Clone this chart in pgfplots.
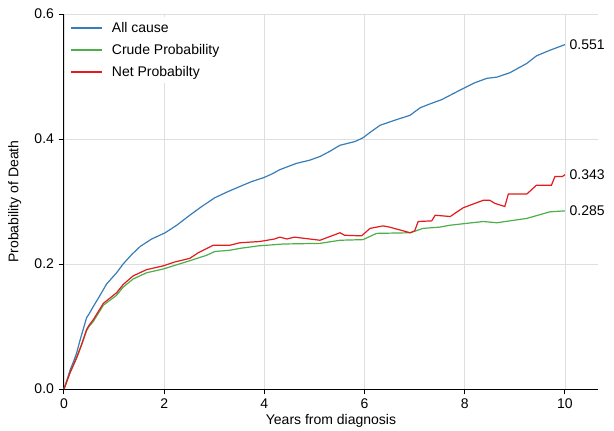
\documentclass[border=0pt]{standalone}
\usepackage{pgfplots}
\pgfplotsset{compat=1.18}
\usepackage{fontspec}
\setmainfont{Liberation Sans}
\definecolor{cAll}{RGB}{55,126,184}
\definecolor{cCrude}{RGB}{77,175,74}
\definecolor{cNet}{RGB}{228,26,28}
\newcommand\legline[1]{\textcolor{#1}{\rule[3.0pt]{23pt}{1.1pt}}}
\begin{document}
\begin{tikzpicture}
\begin{axis}[
  scale only axis,
  width=400.5pt, height=281.25pt,
  xmin=0, xmax=10.66, ymin=0, ymax=0.6,
  axis x line*=bottom, axis y line*=left,
  axis line style={black, line width=0.75pt},
  xtick={0,2,4,6,8,10},
  ytick={0,0.2,0.4,0.6},
  yticklabel style={/pgf/number format/.cd, fixed, fixed zerofill, precision=1},
  /pgf/number format/assume math mode=true,
  tick style={black, line width=0.75pt},
  tick align=outside, major tick length=4pt,
  grid=major, major grid style={gray!25, line width=0.6pt},
  font=\fontsize{10.5}{12}\selectfont,
  ticklabel style={font=\fontsize{10.5}{12}\selectfont},
  xlabel={Years from diagnosis},
  ylabel={Probability of Death},
  xlabel style={at={(axis description cs:0.5,-0.085)}, anchor=center},
  ylabel style={at={(axis description cs:-0.092,0.5)}, anchor=center},
  clip=false,
]
\addplot[cAll, line width=0.9pt] coordinates {
(0,0) (0.05,0.012) (0.12,0.030) (0.2,0.046) (0.25,0.057) (0.32,0.078) (0.4,0.10)
(0.45,0.114) (0.5,0.12) (0.585,0.132) (0.72,0.150) (0.85,0.168) (1.05,0.186)
(1.18,0.200) (1.35,0.215) (1.52,0.228) (1.75,0.240) (2.02,0.250) (2.25,0.262)
(2.51,0.278) (2.75,0.292) (3.01,0.306) (3.25,0.315) (3.51,0.324) (3.75,0.332)
(3.98,0.338) (4.15,0.344) (4.31,0.351) (4.64,0.361) (4.9,0.366) (5.11,0.372)
(5.3,0.380) (5.51,0.390) (5.81,0.396) (5.97,0.402) (6.1,0.410) (6.31,0.422)
(6.6,0.430) (6.91,0.438) (7.11,0.450) (7.3,0.456) (7.54,0.463) (7.9,0.478)
(8.2,0.490) (8.44,0.497) (8.64,0.499) (8.9,0.506) (9.24,0.521) (9.43,0.533)
(9.7,0.542) (10.0,0.551)
};
\addplot[cCrude, line width=0.9pt] coordinates {
(0,0) (0.12,0.026) (0.25,0.049) (0.35,0.07) (0.45,0.093) (0.5,0.100) (0.585,0.108)
(0.785,0.134) (1.05,0.150) (1.18,0.163) (1.38,0.176) (1.65,0.186) (1.98,0.192)
(2.18,0.197) (2.5,0.205) (2.85,0.214) (3.01,0.220) (3.31,0.222) (3.51,0.225)
(3.88,0.229) (4.38,0.232) (5.11,0.233) (5.51,0.238) (5.97,0.239) (6.24,0.249)
(6.91,0.250) (7.17,0.257) (7.5,0.259) (7.7,0.262) (8.37,0.268) (8.64,0.266)
(9.24,0.273) (9.7,0.2835) (10,0.285)
};
\addplot[cNet, line width=0.9pt] coordinates {
(0,0) (0.12,0.026) (0.25,0.050) (0.35,0.071) (0.45,0.095) (0.5,0.102) (0.585,0.111)
(0.785,0.137) (1.05,0.154) (1.18,0.167) (1.38,0.181) (1.65,0.191) (1.98,0.197)
(2.2,0.203) (2.51,0.209) (2.68,0.218) (2.98,0.230) (3.31,0.230) (3.51,0.234)
(3.91,0.236) (4.2,0.240) (4.31,0.243) (4.45,0.240) (4.6,0.243) (5.11,0.238)
(5.31,0.244) (5.51,0.250) (5.6,0.246) (5.94,0.245) (6.11,0.257) (6.37,0.261)
(6.5,0.259) (6.91,0.250) (7.0,0.253) (7.07,0.268) (7.34,0.269) (7.41,0.278)
(7.71,0.276) (7.97,0.290) (8.37,0.302) (8.5,0.302) (8.6,0.297) (8.8,0.292)
(8.87,0.312) (9.24,0.312) (9.43,0.326) (9.73,0.326) (9.8,0.340) (9.95,0.340)
(10,0.343)
};
\node[anchor=north west, fill=white, inner sep=0pt, yshift=-2.3pt,
      font=\fontsize{10.5}{12}\selectfont]
  at (axis description cs:0.0131,1) {%
  \renewcommand\arraystretch{1.375}%
  \begin{tabular}{@{}l@{\hspace{7.5pt}}l@{}}
  \legline{cAll} & All cause\\
  \legline{cCrude} & Crude Probability\\
  \legline{cNet} & Net Probabilty
  \end{tabular}};
\node[anchor=west, font=\fontsize{10.5}{12}\selectfont] at (axis cs:10,0.551) {0.551};
\node[anchor=west, font=\fontsize{10.5}{12}\selectfont] at (axis cs:10,0.343) {0.343};
\node[anchor=west, font=\fontsize{10.5}{12}\selectfont] at (axis cs:10,0.285) {0.285};
\end{axis}
\pgfresetboundingbox
\path[use as bounding box] (-48pt,-30.75pt) rectangle (412.5pt,291.75pt);
\end{tikzpicture}
\end{document}
